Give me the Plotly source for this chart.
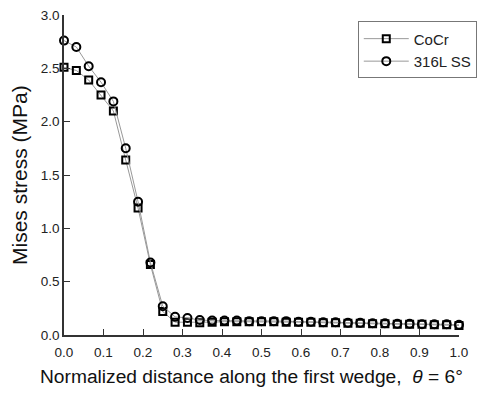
import plotly.graph_objects as go

x_vals = [i / 32 for i in range(33)]
cocr = [2.51, 2.48, 2.39, 2.25, 2.10, 1.64, 1.19, 0.66, 0.22, 0.12, 0.12, 0.115,
        0.12, 0.125, 0.125, 0.125, 0.125, 0.125, 0.12, 0.12, 0.12, 0.115, 0.115,
        0.11, 0.11, 0.105, 0.105, 0.10, 0.10, 0.10, 0.095, 0.095, 0.09]
ss316 = [2.76, 2.70, 2.52, 2.37, 2.19, 1.75, 1.25, 0.68, 0.27, 0.17, 0.16, 0.14,
         0.135, 0.135, 0.135, 0.13, 0.13, 0.13, 0.13, 0.125, 0.125, 0.12, 0.12,
         0.115, 0.115, 0.11, 0.11, 0.105, 0.105, 0.10, 0.10, 0.10, 0.095]
series_names = ["CoCr", "316L SS"]

FONT = "Arial, Liberation Sans, sans-serif"

fig = go.Figure()
fig.add_trace(go.Scatter(
    x=x_vals, y=cocr, name=series_names[0], mode="lines+markers",
    line=dict(color="#999999", width=1),
    marker=dict(symbol="square-open", size=7, color="black", line=dict(width=2, color="black")),
    cliponaxis=False))
fig.add_trace(go.Scatter(
    x=x_vals, y=ss316, name=series_names[1], mode="lines+markers",
    line=dict(color="#999999", width=1),
    marker=dict(symbol="circle-open", size=8, color="black", line=dict(width=2, color="black")),
    cliponaxis=False))

fig.update_layout(
    width=477, height=394,
    margin=dict(l=64, r=18, t=15, b=59, autoexpand=False),
    paper_bgcolor="white", plot_bgcolor="white",
    font=dict(family=FONT, color="#222222", size=12),
    showlegend=True,
    legend=dict(x=1.045, xanchor="right", y=0.98, yanchor="top",
                bordercolor="#777777", borderwidth=1, bgcolor="white",
                font=dict(size=15, family=FONT, color="#222222"),
                tracegroupgap=0, itemwidth=45),
    xaxis=dict(range=[0, 1], tickmode="linear", tick0=0, dtick=0.1, tickformat=".1f",
               showline=True, linecolor="#333333", linewidth=1.5, mirror=False,
               ticks="inside", ticklen=6, tickcolor="#333333", showgrid=False, zeroline=False,
               tickfont=dict(size=13.5), ticklabelstandoff=4, automargin=False),
    yaxis=dict(range=[0, 3], tickmode="linear", tick0=0, dtick=0.5, tickformat=".1f",
               showline=True, linecolor="#333333", linewidth=1.5, mirror=False,
               ticks="inside", ticklen=6, tickcolor="#333333", showgrid=False, zeroline=False,
               tickfont=dict(size=13.5), automargin=False),
    annotations=[
        dict(text="Mises stress (MPa)", x=(19 - 64) / (477 - 64 - 18), xref="paper",
             y=0.5, yref="paper",
             showarrow=False, textangle=-90, font=dict(size=21, family=FONT, color="#111111"),
             xanchor="center", yanchor="middle"),
        dict(text="Normalized distance along the first wedge,  <i>θ</i> = 6°",
             x=0.475, xref="paper", y=-0.09, yref="paper", showarrow=False,
             font=dict(size=19.2, family=FONT, color="#111111"),
             xanchor="center", yanchor="top"),
    ],
)
fig.write_html("out.html")
